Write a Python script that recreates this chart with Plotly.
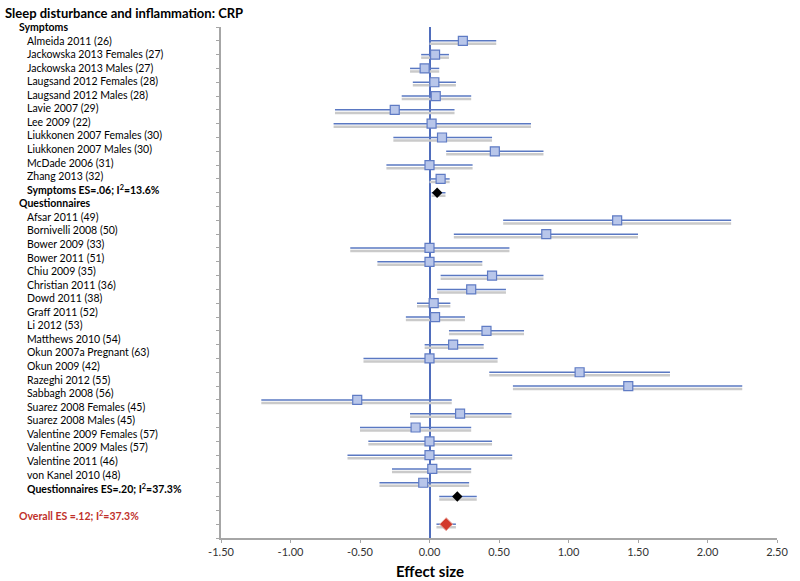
import plotly.graph_objs as go

# symptoms studies: effect size, lower, upper
symptom_names = ['Almeida 2011 (26)', 'Jackowska 2013 Females (27)', 'Jackowska 2013 Males (27)',
                 'Laugsand 2012 Females (28)', 'Laugsand 2012 Males (28)', 'Lavie 2007 (29)',
                 'Lee 2009 (22)', 'Liukkonen 2007 Females (30)', 'Liukkonen 2007 Males (30)',
                 'McDade 2006 (31)', 'Zhang 2013 (32)']
symptom_es = [0.24, 0.04, -0.035, 0.035, 0.045, -0.25, 0.015, 0.09, 0.47, 0.0, 0.08]
symptom_lo = [0.00, -0.06, -0.14, -0.12, -0.20, -0.68, -0.69, -0.26, 0.12, -0.31, 0.00]
symptom_hi = [0.48, 0.14, 0.07, 0.19, 0.30, 0.18, 0.73, 0.45, 0.82, 0.31, 0.145]

quest_names = ['Afsar 2011 (49)', 'Bornivelli 2008 (50)', 'Bower 2009 (33)', 'Bower 2011 (51)',
               'Chiu 2009 (35)', 'Christian 2011 (36)', 'Dowd 2011 (38)', 'Graff 2011 (52)',
               'Li 2012 (53)', 'Matthews 2010 (54)', 'Okun 2007a Pregnant (63)', 'Okun 2009 (42)',
               'Razeghi 2012 (55)', 'Sabbagh 2008 (56)', 'Suarez 2008 Females (45)',
               'Suarez 2008 Males (45)', 'Valentine 2009 Females (57)', 'Valentine 2009 Males (57)',
               'Valentine 2011 (46)', 'von Kanel 2010 (48)']
quest_es = [1.35, 0.84, 0.0, 0.0, 0.45, 0.30, 0.03, 0.04, 0.41, 0.17, 0.0, 1.08,
            1.43, -0.52, 0.22, -0.10, 0.0, 0.0, 0.02, -0.045]
quest_lo = [0.53, 0.175, -0.57, -0.375, 0.08, 0.055, -0.09, -0.17, 0.14, -0.035, -0.475, 0.43,
            0.60, -1.21, -0.14, -0.50, -0.44, -0.59, -0.27, -0.36]
quest_hi = [2.17, 1.50, 0.575, 0.38, 0.82, 0.55, 0.15, 0.255, 0.68, 0.39, 0.49, 1.73,
            2.25, 0.16, 0.59, 0.30, 0.45, 0.595, 0.30, 0.285]

# pooled estimates
symptoms_pooled = [0.055, 0.015, 0.115]
quest_pooled = [0.20, 0.07, 0.34]
overall_pooled = [0.12, 0.05, 0.19]

symptoms_label = 'Symptoms ES=.06; I<sup>2</sup>=13.6%'
quest_label = 'Questionnaires ES=.20; I<sup>2</sup>=37.3%'
overall_label = 'Overall ES =.12; I<sup>2</sup>=37.3%'

x_ticks = [-1.5, -1.0, -0.5, 0.0, 0.5, 1.0, 1.5, 2.0, 2.5]

# row layout, top to bottom
rows_sym = list(range(1, 1 + len(symptom_names)))
row_sym_es = rows_sym[-1] + 1
row_q_head = row_sym_es + 1
rows_q = list(range(row_q_head + 1, row_q_head + 1 + len(quest_names)))
row_q_es = rows_q[-1] + 1
row_overall = row_q_es + 2
n_rows = row_overall + 1

study_rows = rows_sym + rows_q
study_es = symptom_es + quest_es
study_lo = symptom_lo + quest_lo
study_hi = symptom_hi + quest_hi

BLUE = '#5a78c2'
SHADOW = '#cacaca'
AXIS = '#a6a6a6'
FONT = 'Lato, Arial, sans-serif'


def err(es, lo, hi):
    return dict(type='data', symmetric=False,
                array=[h - e for e, h in zip(es, hi)],
                arrayminus=[e - l for e, l in zip(es, lo)])


fig = go.Figure()

all_rows = study_rows + [row_sym_es, row_q_es, row_overall]
all_es = study_es + [symptoms_pooled[0], quest_pooled[0], overall_pooled[0]]
all_lo = study_lo + [symptoms_pooled[1], quest_pooled[1], overall_pooled[1]]
all_hi = study_hi + [symptoms_pooled[2], quest_pooled[2], overall_pooled[2]]

# soft shadow under each interval
fig.add_trace(go.Scatter(x=all_es, y=[r + 0.22 for r in all_rows], mode='markers',
                         marker=dict(size=1, color='rgba(0,0,0,0)'),
                         error_x=dict(**err(all_es, all_lo, all_hi), width=0, thickness=2.5, color=SHADOW),
                         showlegend=False, hoverinfo='skip'))

fig.add_trace(go.Scatter(x=all_es, y=all_rows, mode='markers',
                         marker=dict(size=1, color='rgba(0,0,0,0)'),
                         error_x=dict(**err(all_es, all_lo, all_hi), width=0, thickness=1.5, color=BLUE),
                         showlegend=False, hoverinfo='skip'))

fig.add_trace(go.Scatter(x=study_es, y=study_rows, mode='markers',
                         marker=dict(symbol='square', size=9, color='#b8c6ea',
                                     line=dict(color='#5f7bc4', width=1.2)),
                         showlegend=False))

fig.add_trace(go.Scatter(x=[symptoms_pooled[0], quest_pooled[0]], y=[row_sym_es, row_q_es], mode='markers',
                         marker=dict(symbol='diamond', size=8, color='black'),
                         showlegend=False))

fig.add_trace(go.Scatter(x=[overall_pooled[0]], y=[row_overall], mode='markers',
                         marker=dict(symbol='diamond', size=10, color='#d23a2c',
                                     line=dict(color='#e8a89f', width=1)),
                         showlegend=False))

# dummy trace so the label axis exists
fig.add_trace(go.Scatter(x=[None], y=[None], yaxis='y2', showlegend=False, hoverinfo='skip'))

# left-hand labels
labels = [('Symptoms', 0, True, 'header')]
labels += [(n, r, False, 'study') for n, r in zip(symptom_names, rows_sym)]
labels += [(symptoms_label, row_sym_es, True, 'study')]
labels += [('Questionnaires', row_q_head, True, 'header')]
labels += [(n, r, False, 'study') for n, r in zip(quest_names, rows_q)]
labels += [(quest_label, row_q_es, True, 'study')]
labels += [(overall_label, row_overall, True, 'header')]

plot_left, plot_w = 221, 565
for text, r, bold, kind in labels:
    px = 14 if kind == 'header' else 22
    color = '#c0302a' if text == overall_label else 'black'
    fig.add_annotation(text=f'<b>{text}</b>' if bold else text,
                       x=(px - plot_left) / plot_w, xref='paper', xanchor='left',
                       y=r, yref='y2', yanchor='middle', showarrow=False,
                       font=dict(family=FONT, size=10.5, color=color))

fig.add_annotation(text='<b>Effect size</b>', x=0, xref='x', xanchor='center',
                   y=-0.064, yref='paper', yanchor='middle', showarrow=False,
                   font=dict(family=FONT, size=15, color='black'))

fig.update_layout(
    width=800, height=581,
    margin=dict(l=221, r=14, t=27, b=43),
    paper_bgcolor='white', plot_bgcolor='white',
    title=dict(text='<b>Sleep disturbance and inflammation: CRP</b>', x=5 / 800, xanchor='left',
               y=1 - 13 / 581, yanchor='middle', font=dict(family=FONT, size=13, color='black')),
    font=dict(family=FONT),
    xaxis=dict(range=[x_ticks[0], x_ticks[-1]], tickvals=x_ticks, ticktext=[f'{v:.2f}' for v in x_ticks],
               showgrid=False, zeroline=True, zerolinecolor='#4f6dbc', zerolinewidth=1.5,
               showline=True, linecolor=AXIS, linewidth=1.5, ticks='outside', ticklen=3,
               tickcolor=AXIS, tickfont=dict(family=FONT, size=11, color='#333333')),
    yaxis=dict(range=[n_rows, 0], dtick=1, tick0=0, showticklabels=False, showgrid=False,
               zeroline=False, showline=True, linecolor=AXIS, linewidth=1.5,
               ticks='outside', ticklen=3, tickcolor=AXIS),
    yaxis2=dict(range=[n_rows * 13.80 / 13.55, 0], overlaying='y', visible=False),
)

# drop the browser's default page margin so the figure sits at the window's corner
fig.write_html('out.html', config={'displayModeBar': False},
               post_script="document.body.style.margin='0px';")
